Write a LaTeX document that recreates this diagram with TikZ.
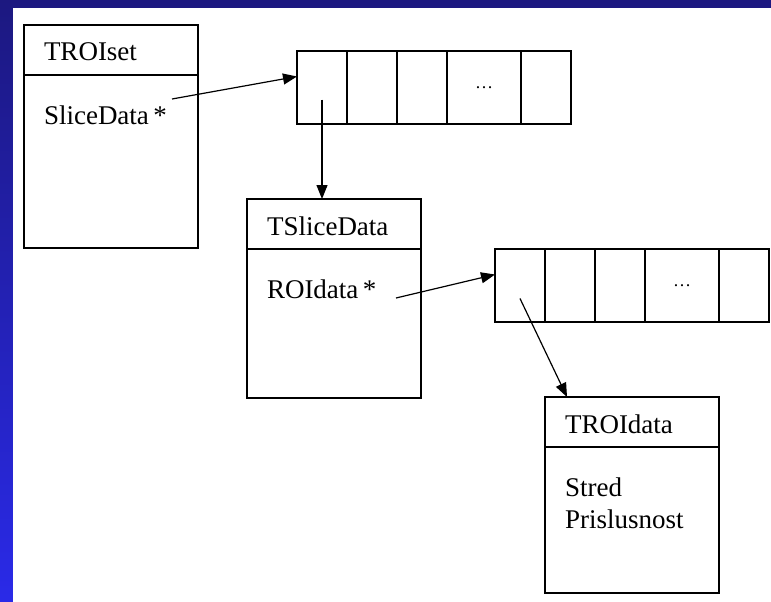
\documentclass[tikz,border=0pt]{standalone}
\usepackage{fontspec}
\setmainfont{Liberation Serif}
\usetikzlibrary{arrows.meta, positioning}
\definecolor{slidetop}{RGB}{28,24,128}
\definecolor{slidebottom}{RGB}{42,42,232}
\tikzset{%
    head/.style = {draw, rectangle, line width=1.3pt, outer sep=0pt,
        inner xsep=20pt, inner ysep=0pt, text width=134pt, align=left,
        text height=36pt, text depth=14pt},
    body/.style = {head, text height=49pt, text depth=#1},
    cell/.style = {draw, rectangle, line width=1.3pt, outer sep=0pt, inner sep=0pt,
        minimum width=50pt, minimum height=73pt},
    dotcell/.style = {cell, minimum width=74pt, font=\fontsize{18}{18}\selectfont},
    link/.style = {->, line width=1.2pt}
}

\begin{document}
\begin{tikzpicture}[x=1pt, y=1pt,
    >={Triangle[length=14pt, width=11pt]},
    font=\fontsize{27}{32}\selectfont
  ]
    \useasboundingbox (0,0) rectangle (771,-602);
    \shade[top color=slidetop, bottom color=slidebottom] (0,0) rectangle (771,-602);
    \fill[white] (13,-8) rectangle (771,-602);

    % classes
    \node [head, anchor=north west] (setH) at (24,-25) {TROIset};
    \node [body=124pt, below=0pt of setH] (setB) {SliceData\,*};
    \node [head, anchor=north west] (sliceH) at (247,-199) {TSliceData};
    \node [body=100pt, below=0pt of sliceH] (sliceB) {ROIdata\,*};
    \node [head, anchor=north west] (roiH) at (545,-397) {TROIdata};
    \node [body=97pt, below=0pt of roiH] (roiB) {Stred\\Prislusnost};

    % first array
    \node [cell, below right=26pt and 99pt of setH.north east] (c11) {};
    \node [cell, right=0pt of c11] (c12) {};
    \node [cell, right=0pt of c12] (c13) {};
    \node [dotcell, right=0pt of c13] (c14) {\ldots};
    \node [cell, right=0pt of c14] (c15) {};

    % second array
    \node [cell, below right=0pt and 74pt of sliceB.north east] (c21) {};
    \node [cell, right=0pt of c21] (c22) {};
    \node [cell, right=0pt of c22] (c23) {};
    \node [dotcell, right=0pt of c23] (c24) {\ldots};
    \node [cell, right=0pt of c24] (c25) {};

    \draw[link] ([shift={(-26pt,-24pt)}]setB.north east) -- ([yshift=11pt]c11.west);
    \draw[link] ([yshift=-12pt]c11.center) -- (c11.center |- sliceH.north);
    \draw[link] ([shift={(-25pt,-49pt)}]sliceB.north east) -- ([yshift=11pt]c21.west);
    \draw[link] ([yshift=-13pt]c21.center) -- ([xshift=22pt]roiH.north west);
\end{tikzpicture}
\end{document}
